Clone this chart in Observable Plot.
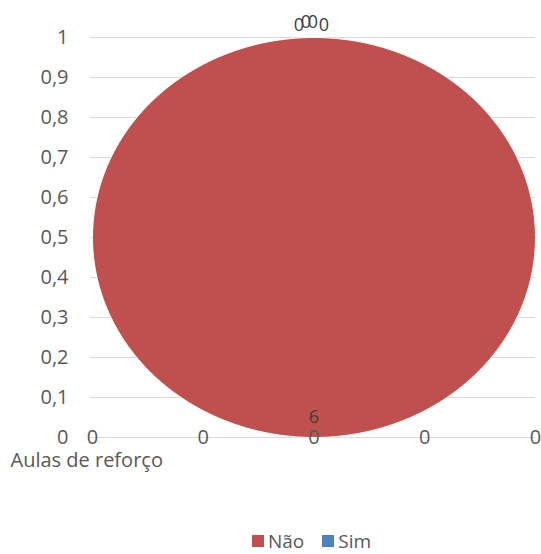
<!DOCTYPE html>
<html>
<head>
<meta charset="utf-8">
<script src="https://cdn.jsdelivr.net/npm/d3@7"></script>
<script src="https://cdn.jsdelivr.net/npm/@observablehq/plot@0.6"></script>
<style>
  html, body { margin: 0; padding: 0; background: white; }
  #wrap { position: relative; width: 541px; height: 554px; font-family: "Open Sans", sans-serif; color: #595959; }
  #legend { position: absolute; top: 530px; left: 252px; display: flex; align-items: center; font-size: 19px; line-height: 22px; }
  .item { display: flex; align-items: center; margin-right: 18px; }
  .sw { width: 12px; height: 12px; margin-right: 4px; }
</style>
</head>
<body>
<div id="wrap"><div id="chart"></div><div id="legend"></div></div>
<script>
const categories = ["Não", "Sim"];
const values = [6, 0];
const colors = ["#C0504D", "#4F81BD"];
const yTicks = [0, 0.1, 0.2, 0.3, 0.4, 0.5, 0.6, 0.7, 0.8, 0.9, 1];
const xTicks = [0, 1, 2, 3, 4];
const xTickLabels = ["0", "0", "0", "0", "0"];
const axisTitle = "Aulas de reforço";

const xDomain = [0, 4], yDomain = [0, 1];
const cx = (xDomain[0] + xDomain[1]) / 2, cy = (yDomain[0] + yDomain[1]) / 2;
const rx = (xDomain[1] - xDomain[0]) / 2, ry = (yDomain[1] - yDomain[0]) / 2;

const arcs = d3.pie().sort(null)(values).map((a, i) => ({...a, category: categories[i], color: colors[i]}));
const pieRows = [];
for (const a of arcs) {
  if (a.endAngle <= a.startAngle) continue;
  const n = Math.max(2, Math.ceil((a.endAngle - a.startAngle) / (2 * Math.PI) * 240));
  if (a.endAngle - a.startAngle < 2 * Math.PI - 1e-9) pieRows.push({category: a.category, color: a.color, x: cx, y: cy});
  for (let k = 0; k <= n; k++) {
    const t = a.startAngle + (a.endAngle - a.startAngle) * k / n;
    pieRows.push({category: a.category, color: a.color, x: cx + rx * Math.sin(t), y: cy + ry * Math.cos(t)});
  }
}
const labelPos = (a, f) => {
  const m = (a.startAngle + a.endAngle) / 2;
  return {x: cx + rx * f * Math.sin(m), y: cy + ry * f * Math.cos(m), text: String(a.value)};
};
const insideLabels = arcs.filter(a => a.value > 0).map(a => labelPos(a, 0.9));
const zeroLabels = arcs.filter(a => a.value === 0).map(a => labelPos(a, 1.07));

const zeroOffsets = [[-15, 2], [-8, -1], [-1, -1], [10, 2]];

const chart = Plot.plot({
  width: 541,
  height: 500,
  marginLeft: 92,
  marginRight: 6,
  marginTop: 37,
  marginBottom: 63,
  x: {domain: xDomain, axis: null},
  y: {domain: yDomain, axis: null},
  style: {fontFamily: "Open Sans, sans-serif", fontSize: "17px", color: "#595959", background: "white", overflow: "visible"},
  marks: [
    Plot.ruleY(yTicks, {y: d => d, stroke: "#d9d9d9", strokeWidth: 1, insetLeft: -2}),
    Plot.axisY(yTicks, {label: null, tickSize: 0, tickPadding: 24, fontSize: 20, fill: "#595959", tickFormat: d => String(d).replace(".", ",")}),
    Plot.line(pieRows, {x: "x", y: "y", z: "category", fill: "color", stroke: "white", strokeWidth: 1, curve: "linear-closed"}),
    Plot.text(insideLabels, {x: "x", y: "y", text: "text", fill: "#404040", fontSize: 18}),
    ...zeroOffsets.map(([dx, dy]) => Plot.text(zeroLabels, {x: "x", y: "y", text: "text", fill: "#404040", fontSize: 18, dx, dy})),
    Plot.text(xTicks, {x: d => d, y: 0, text: (d, i) => xTickLabels[i], fill: "#595959", fontSize: 20}),
    Plot.text([axisTitle], {frameAnchor: "bottom-left", text: d => d, textAnchor: "start", dx: -82, dy: 29, fill: "#595959", fontSize: 20})
  ]
});
document.getElementById("chart").appendChild(chart);

const legend = document.getElementById("legend");
categories.forEach((c, i) => {
  const item = document.createElement("div");
  item.className = "item";
  const sw = document.createElement("span");
  sw.className = "sw";
  sw.style.background = colors[i];
  const lb = document.createElement("span");
  lb.textContent = c;
  item.appendChild(sw);
  item.appendChild(lb);
  legend.appendChild(item);
});
</script>
</body>
</html>
